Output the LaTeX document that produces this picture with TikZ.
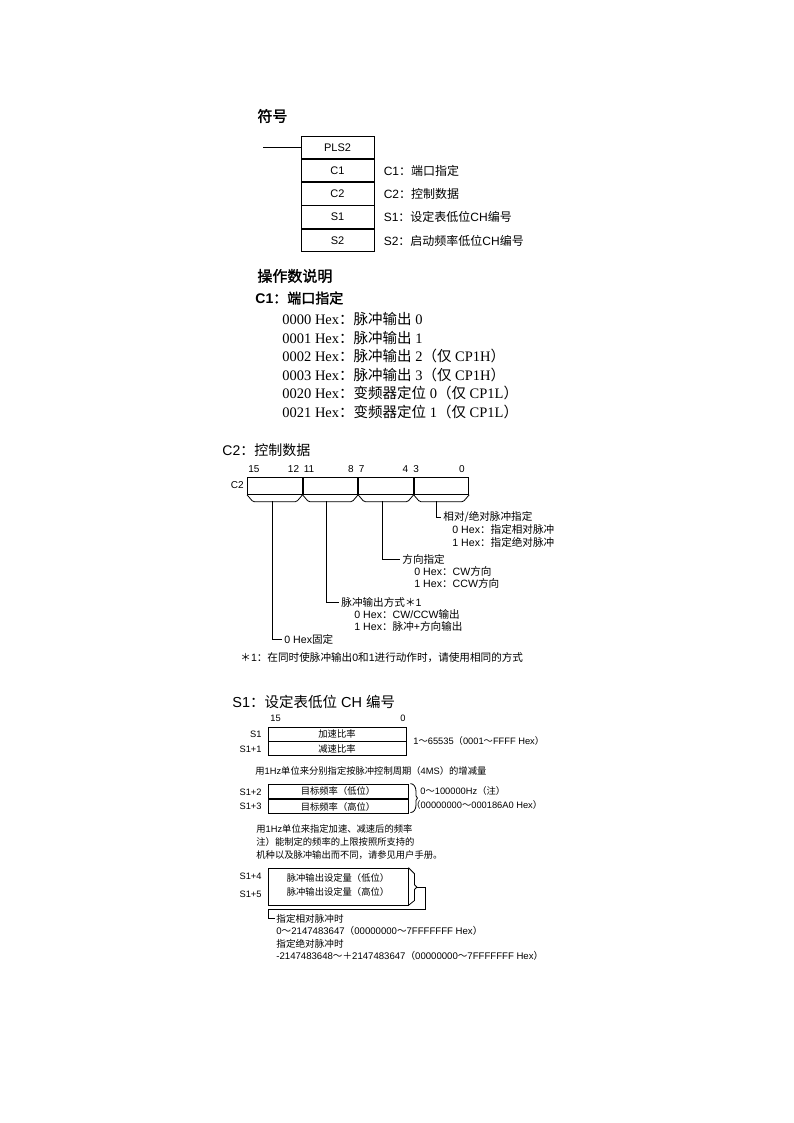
\documentclass[tikz,border=0pt]{standalone}
\usepackage{fontspec}
\setmainfont{Liberation Sans}
\newfontfamily\cjk{Noto Sans CJK SC}
\newfontfamily\cjkb[FakeBold=1.5]{Noto Sans CJK SC}
\newfontfamily\serifnum{Liberation Serif}
\newcommand\C[1]{{\cjk #1}}
\newcommand\CB[1]{{\cjkb #1}}
\begin{document}
\begin{tikzpicture}[x=1pt,y=-1pt,
  line width=0.8pt,
  every node/.style={inner sep=0pt},
  ttl/.style={anchor=west, font=\fontsize{15}{18}\selectfont},
  lbl/.style={anchor=west, font=\fontsize{12}{14}\selectfont},
  ser/.style={anchor=west, font=\serifnum\fontsize{14.5}{17}\selectfont},
  sm/.style={anchor=west, inner xsep=2pt, font=\fontsize{10.6}{12}\selectfont},
  tc/.style={anchor=west, font=\fontsize{10.6}{12}\selectfont},
  tn/.style={anchor=west, font=\fontsize{9.3}{11}\selectfont},
  tnr/.style={anchor=east, font=\fontsize{9.3}{11}\selectfont},
  bn/.style={anchor=west, font=\fontsize{10}{12}\selectfont},
  bnr/.style={anchor=east, font=\fontsize{10}{12}\selectfont},
  cell/.style={draw, minimum width=73pt, minimum height=22.5pt, font=\fontsize{11}{13}\selectfont},
  nib/.style={draw, minimum width=54.75pt, minimum height=17pt, anchor=north west},
  scell/.style={draw, minimum width=138pt, minimum height=14pt, font=\fontsize{9.3}{11}\selectfont}
]
\fill[white] (0,0) rectangle (794,1123);
\useasboundingbox (0,0) rectangle (794,1123);

% ---------- Symbol ----------
\node[ttl] (tsym) at (257,116) {\CB{符号}};
\node[cell] (pls) at (337.5,147.25) {PLS2};
\node[cell, anchor=north] (rc1) at (pls.south) {C1};
\node[cell, anchor=north] (rc2) at (rc1.south) {C2};
\node[cell, anchor=north] (rs1) at (rc2.south) {S1};
\node[cell, anchor=north] (rs2) at (rs1.south) {S2};
\coordinate (inl) at (263,147.25);
\draw (inl) -- (pls.west);
\node[lbl] (l1) at ([xshift=9pt]rc1.east) {C1\C{：端口指定}};
\node[lbl] (l2) at ([xshift=9pt]rc2.east) {C2\C{：控制数据}};
\node[lbl] (l3) at ([xshift=9pt]rs1.east) {S1\C{：设定表低位}CH\C{编号}};
\node[lbl] (l4) at ([xshift=9pt]rs2.east) {S2\C{：启动频率低位}CH\C{编号}};

% ---------- Operands ----------
\node[ttl] (top) at (257,276) {\CB{操作数说明}};
\node[anchor=west, font=\fontsize{14}{17}\selectfont] (tc1) at (255,298) {\textbf{C1}\CB{：端口指定}};
\node[ser] (o1) at (282,319) {0000 Hex\C{：脉冲输出} 0};
\node[ser] (o2) at (282,337.5) {0001 Hex\C{：脉冲输出} 1};
\node[ser] (o3) at (282,356) {0002 Hex\C{：脉冲输出} 2\C{（仅} CP1H\C{）}};
\node[ser] (o4) at (282,374.5) {0003 Hex\C{：脉冲输出} 3\C{（仅} CP1H\C{）}};
\node[ser] (o5) at (282,393) {0020 Hex\C{：变频器定位} 0\C{（仅} CP1L\C{）}};
\node[ser] (o6) at (282,411.5) {0021 Hex\C{：变频器定位} 1\C{（仅} CP1L\C{）}};

% ---------- C2 control data ----------
\node[anchor=west, font=\fontsize{14}{17}\selectfont] (tc2) at (222,450) {C2\C{：控制数据}};
\node[nib] (n3) at (247,477) {};
\node[nib] (n2) at (n3.north east) {};
\node[nib] (n1) at (n2.north east) {};
\node[nib] (n0) at (n1.north east) {};
\node[bnr] (c2l) at (244,485.5) {C2};
\node[bn] (b15) at (248,469) {15};
\node[bnr] (b12) at (299.5,469) {12};
\node[bn] (b11) at (303.5,469) {11};
\node[bnr] (b8) at (354,469) {8};
\node[bn] (b7) at (358.5,469) {7};
\node[bnr] (b4) at (408.5,469) {4};
\node[bn] (b3) at (413,469) {3};
\node[bnr] (b0) at (465,469) {0};
\foreach \n in {n3,n2,n1,n0}{
  \draw[rounded corners=1.5pt] (\n.south west) -- ++(6,7) -- ([shift={(-6,7)}]\n.south east) -- (\n.south east);
}
\coordinate (s3) at (272,501);
\coordinate (s2) at (326,501);
\coordinate (s1) at (382,501);
\coordinate (s0) at (436,501);

\node[sm] (d0) at (441,517) {\C{相对/绝对脉冲指定}};
\node[tc] (d0a) at (452,529.5) {0 Hex\C{：指定相对脉冲}};
\node[tc] (d0b) at (452,542) {1 Hex\C{：指定绝对脉冲}};
\node[sm] (d1) at (400,559) {\C{方向指定}};
\node[tc] (d1a) at (414,571) {0 Hex\C{：}CW\C{方向}};
\node[tc] (d1b) at (414,583) {1 Hex\C{：}CCW\C{方向}};
\node[sm] (d2) at (339,602) {\C{脉冲输出方式＊}1};
\node[tc] (d2a) at (354,614.5) {0 Hex\C{：}CW/CCW\C{输出}};
\node[tc] (d2b) at (354,626.5) {1 Hex\C{：脉冲}+\C{方向输出}};
\node[sm] (d3) at (282,639) {0 Hex\C{固定}};
\node[tc] (fn) at (240,658) {\C{＊}1\C{：在同时使脉冲输出}0\C{和}1\C{进行动作时，请使用相同的方式}};
\draw (s0) |- (d0.west);
\draw (s1) |- (d1.west);
\draw (s2) |- (d2.west);
\draw (s3) |- (d3.west);

% ---------- S1 ----------
\node[anchor=west, font=\fontsize{14.5}{17}\selectfont] (ts1) at (232,702) {S1\C{：设定表低位} CH \C{编号}};
\node[tn] (w15) at (270,718) {15};
\node[tnr] (w0) at (406,718) {0};
\node[scell] (r1) at (337,734) {\C{加速比率}};
\node[scell, anchor=north] (r2) at (r1.south) {\C{减速比率}};
\node[tnr] (lr1) at (262,734) {S1};
\node[tnr] (lr2) at (262,749) {S1+1};
\node[tn] (rr12) at (413,741) {1\C{～}65535\C{（}0001\C{～}FFFF Hex\C{）}};
\node[tn] (nt1) at (255,771) {\C{用}1Hz\C{单位来分别指定按脉冲控制周期（}4MS\C{）的增减量}};

\node[scell, minimum width=140pt, minimum height=14.5pt] (r3) at (338,791.25) {\C{目标频率（低位）}};
\node[scell, minimum width=140pt, minimum height=14.5pt, anchor=north] (r4) at (r3.south) {\C{目标频率（高位）}};
\node[tnr] (lr3) at (262,792) {S1+2};
\node[tnr] (lr4) at (262,806) {S1+3};
\draw (r3.north east) ++(2,0) coordinate (br2t) to[out=0,in=90] ++(5.5,7) -- ++(0,5) -- ++(1.5,2.5) -- ++(-1.5,2.5) -- ++(0,5) to[out=-90,in=0] ++(-5.5,7);
\node[tn] (rr34a) at (420,791) {0\C{～}100000Hz\C{（注）}};
\node[tn] (rr34b) at (411,805) {\C{（}00000000\C{～}000186A0 Hex\C{）}};
\node[tn] (nt2) at (256,829) {\C{用}1Hz\C{单位来指定加速、减速后的频率}};
\node[tn] (nt3) at (256,842) {\C{注）能制定的频率的上限按照所支持的}};
\node[tn] (nt4) at (256,855) {\C{机种以及脉冲输出而不同，请参见用户手册。}};

\node[draw, minimum width=140pt, minimum height=37pt] (r5) at (338,886.5) {};
\node[font=\fontsize{9.3}{11}\selectfont] (r5a) at (338,877.5) {\C{脉冲输出设定量（低位）}};
\node[font=\fontsize{9.3}{11}\selectfont] (r5b) at (338,891.5) {\C{脉冲输出设定量（高位）}};
\node[tnr] (lr5) at (262,876) {S1+4};
\node[tnr] (lr6) at (262,894) {S1+5};
\draw (r5.north east) -- ++(6,6) -- ++(0,11) -- ++(2.5,2.5) coordinate (tip) -- ++(-2.5,2.5) -- ++(0,11) -- (r5.south east);
\node[tn, font=\fontsize{9.6}{11}\selectfont] (v1) at (276,918.5) {\C{指定相对脉冲时}};
\node[tn, font=\fontsize{9.6}{11}\selectfont] (v2) at (276,931) {0\C{～}2147483647\C{（}00000000\C{～}7FFFFFFF Hex\C{）}};
\node[tn, font=\fontsize{9.6}{11}\selectfont] (v3) at (276,943.5) {\C{指定绝对脉冲时}};
\node[tn, font=\fontsize{9.6}{11}\selectfont] (v4) at (276,956) {-2147483648\C{～＋}2147483647\C{（}00000000\C{～}7FFFFFFF Hex\C{）}};
\coordinate (k1) at (425,909.5);
\coordinate (k2) at (268,909.5);
\draw (tip) -| (k1) -- (k2) |- ([xshift=-1.5pt]v1.west);
\end{tikzpicture}
\end{document}
